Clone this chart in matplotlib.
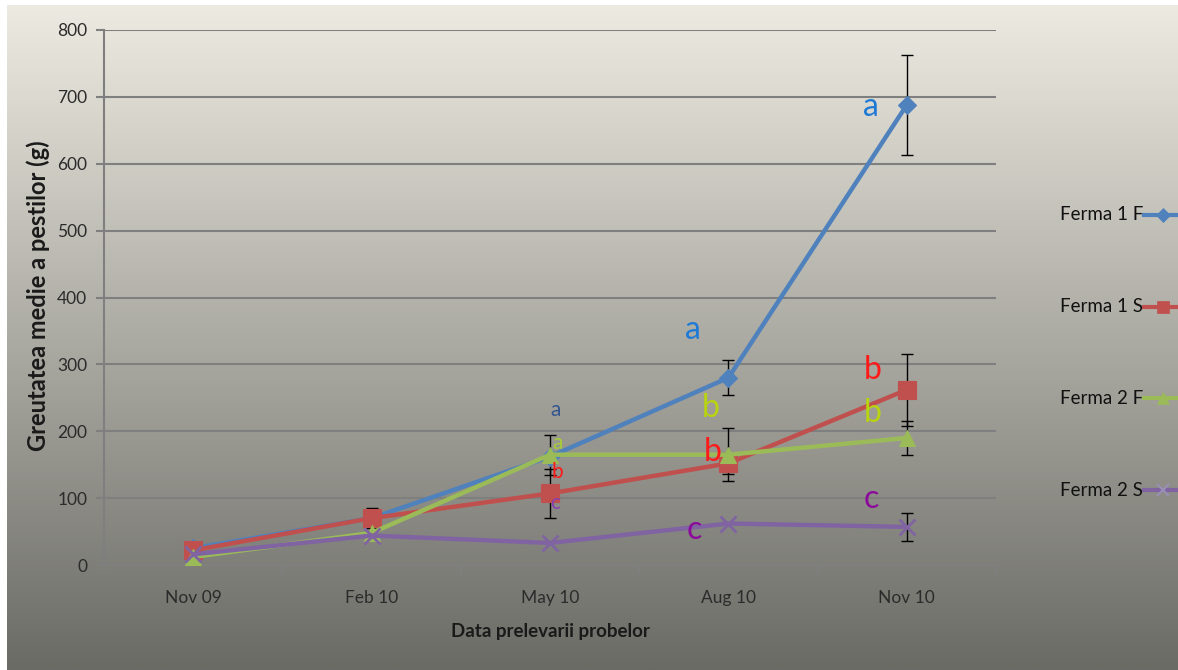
import numpy as np
import matplotlib
matplotlib.use("Agg")
import matplotlib.pyplot as plt
from matplotlib.lines import Line2D

plt.rcParams['font.family'] = ['Lato', 'DejaVu Sans']

# ---- data -------------------------------------------------------------
dates = ["Nov 09", "Feb 10", "May 10", "Aug 10", "Nov 10"]
series_names = ["Ferma 1 F", "Ferma 1 S", "Ferma 2 F", "Ferma 2 S"]

ferma1_f = [25, 70, 162, 280, 688]
ferma1_s = [22, 70, 107, 152, 262]
ferma2_f = [12, 48, 165, 165, 190]
ferma2_s = [16, 44, 33, 62, 57]

# standard deviations (0 = no error bar drawn)
err1_f = [0, 0, 0, 26, 75]
err1_s = [0, 15, 37, 16, 54]
err2_f = [0, 0, 30, 40, 26]
err2_s = [0, 0, 0, 0, 21]

# significance letters placed next to the points
letters_x = [2.03, 2.04, 2.04, 2.03, 2.80, 2.90, 2.91, 2.81, 3.80, 3.81, 3.81, 3.80]
letters_y = [232, 182, 139, 93, 351, 235, 169, 52, 685, 292, 227, 99]
letters_t = ["a", "a", "b", "c", "a", "b", "b", "c", "a", "b", "b", "c"]
letters_c = ["#34568f", "#a6cc3a", "#ff1a1a", "#8a3fb0",
             "#1f7ad6", "#b8d40f", "#ff1a1a", "#8b0a9b",
             "#1f7ad6", "#ff1a1a", "#b8d40f", "#8b0a9b"]
letters_s = [15, 15, 15, 15, 23, 23, 23, 23, 23, 23, 23, 23]

yticks = [0, 100, 200, 300, 400, 500, 600, 700, 800]

# ---- styling ----------------------------------------------------------
colors = ["#4f81bd", "#c0504d", "#9bbb59", "#8064a2"]
markers = ["D", "s", "^", "x"]
msizes = [9, 13, 12, 12]

W, H = 1178, 670
fig = plt.figure(figsize=(W / 100, H / 100), dpi=100)
fig.patch.set_facecolor("white")

# gradient backdrop
bg = fig.add_axes([7 / W, 0, 1 - 7 / W, 1 - 5 / H], zorder=-10)
top = np.array([237, 235, 225]) / 255.0
bot = np.array([107, 107, 102]) / 255.0
t = np.linspace(0, 1, 256)[:, None]
grad = (top[None, :] * (1 - t) + bot[None, :] * t)[:, None, :]
bg.imshow(grad, aspect="auto", extent=[0, 1, 0, 1], interpolation="bilinear")
bg.set_axis_off()

ax = fig.add_axes([104 / W, 1 - 565 / H, (996 - 104) / W, (565 - 30) / H])
ax.set_facecolor("none")
ax.patch.set_alpha(0)

x = np.arange(len(dates))
values = [ferma1_f, ferma1_s, ferma2_f, ferma2_s]
errors = [err1_f, err1_s, err2_f, err2_s]

for vals, errs in zip(values, errors):
    vals = np.array(vals, float)
    errs = np.array(errs, float)
    m = errs > 0
    ax.errorbar(x[m], vals[m], yerr=errs[m], fmt="none", ecolor="black",
                elinewidth=1.0, capsize=4.5, capthick=1.0, zorder=2)

for vals, col, mk, ms in zip(values, colors, markers, msizes):
    ax.plot(x, vals, color=col, lw=3.2, marker=mk, markersize=ms,
            markeredgewidth=2 if mk == "x" else 0.8,
            markeredgecolor=col, markerfacecolor=col, zorder=3,
            solid_capstyle="round")

for lx, ly, lt, lc, ls in zip(letters_x, letters_y, letters_t, letters_c, letters_s):
    ax.text(lx, ly, lt, color=lc, fontsize=ls, ha="center", va="center", zorder=5)

ax.set_xlim(-0.5, len(dates) - 0.5)
ax.set_ylim(0, 800)
ax.set_yticks(yticks)
ax.set_yticklabels([str(v) for v in yticks])
ax.set_xticks(x)
ax.set_xticklabels(dates)
ax.set_xticks(np.arange(-0.5, len(dates)), minor=True)
ax.tick_params(axis="x", which="major", length=0, pad=18, labelsize=12.5,
               labelcolor="#2b2b2b")
ax.tick_params(axis="x", which="minor", length=6, width=1.5, color="#7f7f7f",
               direction="out")
ax.tick_params(axis="y", length=6, width=1.5, color="#7f7f7f", pad=6,
               labelsize=12.5, labelcolor="#2b2b2b")

ax.grid(axis="y", color="#7f7f7f", lw=1.5, zorder=0)
ax.set_axisbelow(True)
for side in ("top", "right"):
    ax.spines[side].set_visible(False)
for side in ("left", "bottom"):
    ax.spines[side].set_color("#7f7f7f")
    ax.spines[side].set_linewidth(1.5)

fig.text(38 / W, 1 - 296 / H, "Greutatea medie a pestilor (g)", rotation=90,
         ha="center", va="center", fontsize=17, fontweight="bold", color="#1a1a1a")
fig.text(550 / W, 1 - 632 / H, "Data prelevarii probelor",
         ha="center", va="center", fontsize=13.5, fontweight="bold", color="#1a1a1a")

# legend column on the right, partly beyond the canvas edge
leg_y = [215, 307, 398, 490]
leg_ms = [7, 8, 8, 8]
for name, yy, col, mk, ms in zip(series_names, leg_y, colors, markers, leg_ms):
    fy = 1 - yy / H
    fig.text(1143 / W, fy, name, ha="right", va="center", fontsize=13.5,
             color="#111111")
    fig.add_artist(Line2D([1144 / W, 1200 / W], [fy, fy], color=col, lw=3,
                          transform=fig.transFigure))
    fig.add_artist(Line2D([1163 / W], [fy], color=col, marker=mk, markersize=ms,
                          markeredgewidth=1.5 if mk == "x" else 0.5,
                          markeredgecolor=col if mk != "x" else "#9a8fb5",
                          transform=fig.transFigure))

fig.savefig("out.png", dpi=100)
